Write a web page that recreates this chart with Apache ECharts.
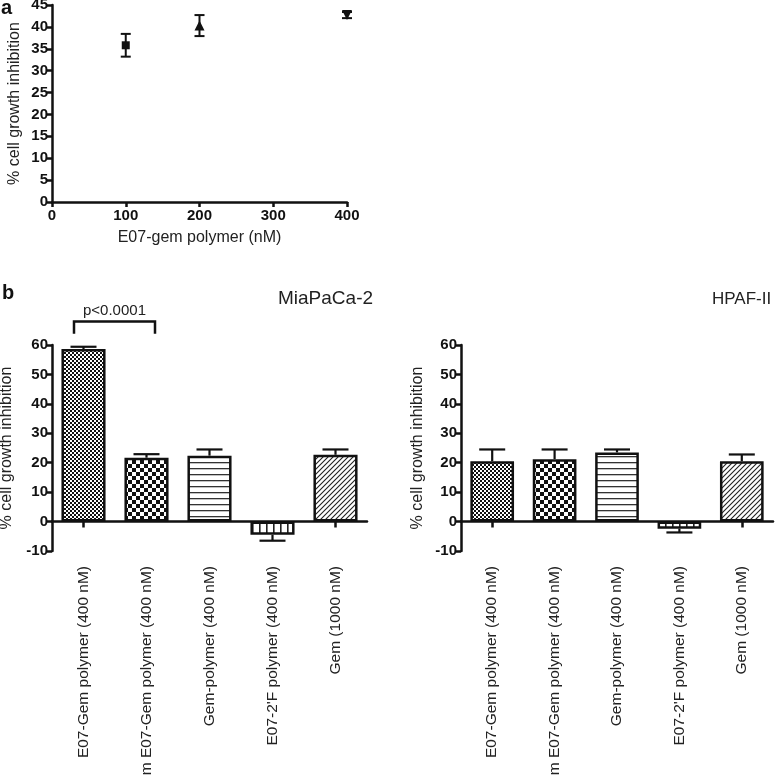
<!DOCTYPE html>
<html>
<head>
<meta charset="utf-8">
<script src="https://cdn.jsdelivr.net/npm/echarts@6/dist/echarts.min.js"></script>
<style>
html,body{margin:0;padding:0;background:#fff;}
#chart{width:777px;height:775px;}
</style>
</head>
<body>
<div id="chart"></div>
<script>
// ---------- Data ----------
// Panel a
const aDose = [100, 200, 400];
const aInhibition = [35.8, 40.3, 42.7];
const aError = [2.6, 2.4, 0.7];
const aXTicks = [0, 100, 200, 300, 400];

// Panel b
const bCategories = ['E07-Gem polymer (400 nM)', 'Scram E07-Gem polymer (400 nM)', 'Gem-polymer (400 nM)', "E07-2'F polymer (400 nM)", 'Gem (1000 nM)'];
const miaValues = [58.6, 21.7, 22.4, -4.5, 22.7];
const miaErrors = [0.8, 1.2, 2.1, 2.0, 1.8];
const hpafValues = [20.5, 21.2, 23.5, -2.4, 20.5];
const hpafErrors = [4.0, 3.3, 1.0, 1.3, 2.3];
const pBracket = [0, 1, 68, 63.8]; // from category, to category, top value, foot value
const pLabel = 'p<0.0001';

// ---------- Patterns ----------
function pattern(kind) {
  const c = document.createElement('canvas');
  const ctx = c.getContext('2d');
  let s;
  if (kind === 'fine') {
    s = 4; c.width = c.height = s;
    ctx.fillStyle = '#fff'; ctx.fillRect(0, 0, s, s);
    ctx.fillStyle = '#111'; ctx.fillRect(0, 0, 2, 2); ctx.fillRect(2, 2, 2, 2);
  } else if (kind === 'coarse') {
    s = 8; c.width = c.height = s;
    ctx.fillStyle = '#fff'; ctx.fillRect(0, 0, s, s);
    ctx.fillStyle = '#111'; ctx.fillRect(0, 0, 4, 4); ctx.fillRect(4, 4, 4, 4);
  } else if (kind === 'hlines') {
    c.width = 6; c.height = 6;
    ctx.fillStyle = '#fff'; ctx.fillRect(0, 0, 6, 6);
    ctx.fillStyle = '#333'; ctx.fillRect(0, 0, 6, 1.3);
  } else if (kind === 'vlines') {
    c.width = 7; c.height = 7;
    ctx.fillStyle = '#fff'; ctx.fillRect(0, 0, 7, 7);
    ctx.fillStyle = '#222'; ctx.fillRect(0, 0, 1.6, 7);
  } else {
    s = 5; c.width = c.height = s;
    ctx.fillStyle = '#fff'; ctx.fillRect(0, 0, s, s);
    ctx.strokeStyle = '#222'; ctx.lineWidth = 1.1;
    ctx.beginPath();
    ctx.moveTo(-1, s + 1); ctx.lineTo(s + 1, -1);
    ctx.moveTo(-1, 1); ctx.lineTo(1, -1);
    ctx.moveTo(s - 1, s + 1); ctx.lineTo(s + 1, s - 1);
    ctx.stroke();
  }
  return { image: c, repeat: 'repeat' };
}
const barFills = [pattern('fine'), pattern('coarse'), pattern('hlines'), pattern('vlines'), pattern('diag')];

// ---------- Styles ----------
const FONT = "'Liberation Sans', Arial, sans-serif";
const INK = '#111';
const tickLabel = { fontFamily: FONT, fontWeight: 'bold', fontSize: 15, color: INK };
const axisNameStyle = { fontFamily: FONT, fontSize: 16, color: '#222' };

function valueYAxis(grid, min, max, interval, gap) {
  return {
    type: 'value', gridIndex: grid, min: min, max: max, interval: interval,
    name: '% cell growth inhibition', nameLocation: 'middle', nameGap: gap,
    nameTextStyle: axisNameStyle,
    axisLine: { show: true, lineStyle: { color: INK, width: 2.5 } },
    axisTick: { show: true, length: 5, lineStyle: { color: INK, width: 2.5 } },
    axisLabel: Object.assign({ margin: 4 }, tickLabel),
    splitLine: { show: false }
  };
}

function barPanel(grid, values, errors) {
  const xi = grid === 1 ? 1 : 3;
  return [
    {
      type: 'bar', xAxisIndex: xi, yAxisIndex: grid,
      barWidth: '70%',
      data: values.map((v, i) => ({
        value: v,
        itemStyle: { color: barFills[i], borderColor: INK, borderWidth: 2.5 }
      })),
      z: 3
    },
    {
      type: 'custom', xAxisIndex: xi, yAxisIndex: grid,
      data: values.map((v, i) => [i, v, errors[i]]),
      renderItem: function (params, api) {
        const v = api.value(1), e = api.value(2);
        const a = api.coord([api.value(0), v]);
        const b = api.coord([api.value(0), v < 0 ? v - e : v + e]);
        const st = { stroke: INK, lineWidth: 2.2 };
        return {
          type: 'group', children: [
            { type: 'line', shape: { x1: a[0], y1: a[1], x2: b[0], y2: b[1] }, style: st },
            { type: 'line', shape: { x1: b[0] - 13, y1: b[1], x2: b[0] + 13, y2: b[1] }, style: st }
          ]
        };
      },
      z: 2
    }
  ];
}

function catAxes(grid) {
  return [
    {
      type: 'category', gridIndex: grid, data: bCategories, position: 'bottom',
      axisLine: { onZero: true, lineStyle: { color: INK, width: 2.5 } },
      axisTick: { show: true, alignWithLabel: true, length: 6, lineStyle: { color: INK, width: 2.5 } },
      axisLabel: { show: false }, splitLine: { show: false }
    },
    {
      type: 'category', gridIndex: grid, data: bCategories, position: 'bottom',
      axisLine: { show: false, onZero: false }, axisTick: { show: false },
      axisLabel: { rotate: 90, margin: 15, fontFamily: FONT, fontSize: 15.5, color: '#222' },
      splitLine: { show: false }
    }
  ];
}

const chart = echarts.init(document.getElementById('chart'), null, { renderer: 'canvas' });

const gridBase = { containLabel: false, outerBoundsMode: 'none' };
const option = {
  animation: false,
  backgroundColor: '#fff',
  title: [
    { text: 'a', left: 1, top: -2, padding: 0, textStyle: { fontFamily: FONT, fontWeight: 'bold', fontSize: 20, color: INK } },
    { text: 'b', left: 2, top: 283, padding: 0, textStyle: { fontFamily: FONT, fontWeight: 'bold', fontSize: 20, color: INK } },
    { text: 'MiaPaCa-2', left: 278, top: 289, padding: 0, textStyle: { fontFamily: FONT, fontWeight: 'normal', fontSize: 19, color: '#222' } },
    { text: 'HPAF-II', left: 712, top: 291, padding: 0, textStyle: { fontFamily: FONT, fontWeight: 'normal', fontSize: 17, color: '#222' } }
  ],
  grid: [
    Object.assign({ left: 52, top: 5, width: 295, height: 197 }, gridBase),
    Object.assign({ left: 52, top: 345, width: 315, height: 206 }, gridBase),
    Object.assign({ left: 461, top: 345, width: 312, height: 206 }, gridBase)
  ],
  xAxis: [
    {
      type: 'value', gridIndex: 0, min: aXTicks[0], max: aXTicks[aXTicks.length - 1], interval: 100,
      name: 'E07-gem polymer (nM)', nameLocation: 'middle', nameGap: 28, nameTextStyle: axisNameStyle,
      axisLine: { show: true, lineStyle: { color: INK, width: 2.5 } },
      axisTick: { show: true, length: 5, lineStyle: { color: INK, width: 2.5 } },
      axisLabel: Object.assign({ margin: 6 }, tickLabel),
      splitLine: { show: false }
    }
  ].concat(catAxes(1)).concat(catAxes(2)),
  yAxis: [
    valueYAxis(0, 0, 45, 5, 29),
    valueYAxis(1, -10, 60, 10, 37),
    valueYAxis(2, -10, 60, 10, 35)
  ],
  series: [
    {
      type: 'custom', xAxisIndex: 0, yAxisIndex: 0,
      data: aDose.map((d, i) => [d, aInhibition[i], aError[i]]),
      renderItem: function (params, api) {
        const x = api.value(0), v = api.value(1), e = api.value(2);
        const hi = api.coord([x, v + e]), lo = api.coord([x, v - e]);
        const st = { stroke: INK, lineWidth: 2 };
        return {
          type: 'group', children: [
            { type: 'line', shape: { x1: hi[0], y1: hi[1], x2: lo[0], y2: lo[1] }, style: st },
            { type: 'line', shape: { x1: hi[0] - 5, y1: hi[1], x2: hi[0] + 5, y2: hi[1] }, style: st },
            { type: 'line', shape: { x1: lo[0] - 5, y1: lo[1], x2: lo[0] + 5, y2: lo[1] }, style: st }
          ]
        };
      },
      z: 2
    },
    {
      type: 'scatter', xAxisIndex: 0, yAxisIndex: 0,
      data: aDose.map((d, i) => ({
        value: [d, aInhibition[i]],
        symbol: ['rect', 'triangle', 'triangle'][i],
        symbolRotate: [0, 0, 180][i],
        symbolSize: [8, 10, 10][i]
      })),
      itemStyle: { color: INK, opacity: 1 },
      z: 3
    }
  ].concat(barPanel(1, miaValues, miaErrors)).concat(barPanel(2, hpafValues, hpafErrors)).concat([
    {
      type: 'custom', xAxisIndex: 1, yAxisIndex: 1, clip: false,
      data: [pBracket],
      renderItem: function (params, api) {
        const l = api.coord([api.value(0), api.value(2)]);
        const r = api.coord([api.value(1), api.value(2)]);
        const foot = api.coord([api.value(0), api.value(3)]);
        const x1 = l[0] - 9.5, x2 = r[0] + 8.5;
        const st = { stroke: INK, lineWidth: 2.5, fill: null };
        return {
          type: 'group', children: [
            { type: 'polyline', shape: { points: [[x1, foot[1]], [x1, l[1]], [x2, l[1]], [x2, foot[1]]] }, style: st },
            { type: 'text', x: (x1 + x2) / 2, y: l[1] - 3, style: { text: pLabel, fontFamily: FONT, fontSize: 15, fill: '#222', align: 'center', verticalAlign: 'bottom' } }
          ]
        };
      }
    }
  ])
};

chart.setOption(option);
</script>
</body>
</html>
